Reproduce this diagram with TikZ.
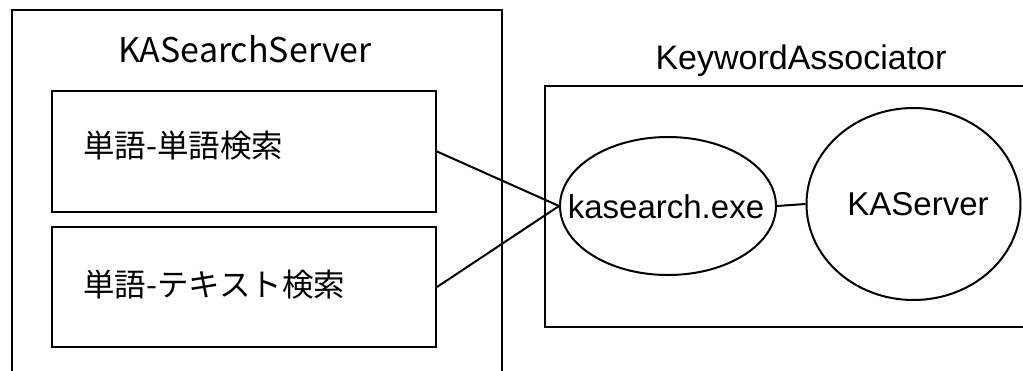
\documentclass[tikz,border=0pt]{standalone}
\usepackage{fontspec}
\setmainfont{Liberation Sans}
\newfontfamily\jp{Noto Sans CJK JP}
\usetikzlibrary{shapes.geometric}
\begin{document}
\begin{tikzpicture}[x=1pt,y=-1pt,
  frame/.style={draw, line width=2pt, inner sep=0pt, anchor=north west},
  oval/.style={draw, ellipse, line width=2pt, inner sep=0pt},
  title/.style={anchor=base, inner sep=0pt},
  jplabel/.style={anchor=west, inner sep=0pt, font=\jp\fontsize{31.5}{36}\selectfont},
  enlabel/.style={anchor=base, inner sep=0pt, font=\fontsize{33}{40}\selectfont},
  conn/.style={line width=2pt}]
\useasboundingbox (0,0) rectangle (1023,370);
\clip (0,0) rectangle (1023,370);
\fill[white] (0,0) rectangle (1023,370);
% containers
\node[frame, minimum width=490pt, minimum height=400pt] (outer) at (11,9) {};
\node[frame, minimum width=520pt, minimum height=241pt] (ka) at (544,85) {};
% titles
\node[title, font=\jp\fontsize{34}{40}\selectfont] (t1) at (245,62) {KASearchServer};
\node[title, font=\fontsize{34}{40}\selectfont] (t2) at (801,69) {KeywordAssociator};
% inner boxes
\node[frame, minimum width=384pt, minimum height=121pt] (b1) at (51,90) {};
\node[frame, minimum width=384pt, minimum height=120pt] (b2) at (51,226) {};
\node[jplabel] (l1) at (83,146) {単語-単語検索};
\node[jplabel] (l2) at (83,285) {単語-テキスト検索};
% ellipses
\node[oval, minimum width=216pt, minimum height=138pt] (kse) at (668,206) {};
\node[oval, minimum width=214pt, minimum height=192pt] (kas) at (913.5,204) {};
\node[enlabel] (kset) at (666,218) {kasearch.exe};
\node[enlabel] (kast) at (918,215) {KAServer};
% connectors
\draw[conn] (b1.east) -- (kse.west);
\draw[conn] (b2.east) -- (kse.west);
\draw[conn] (kse.east) -- (kas.west);
\end{tikzpicture}
\end{document}
